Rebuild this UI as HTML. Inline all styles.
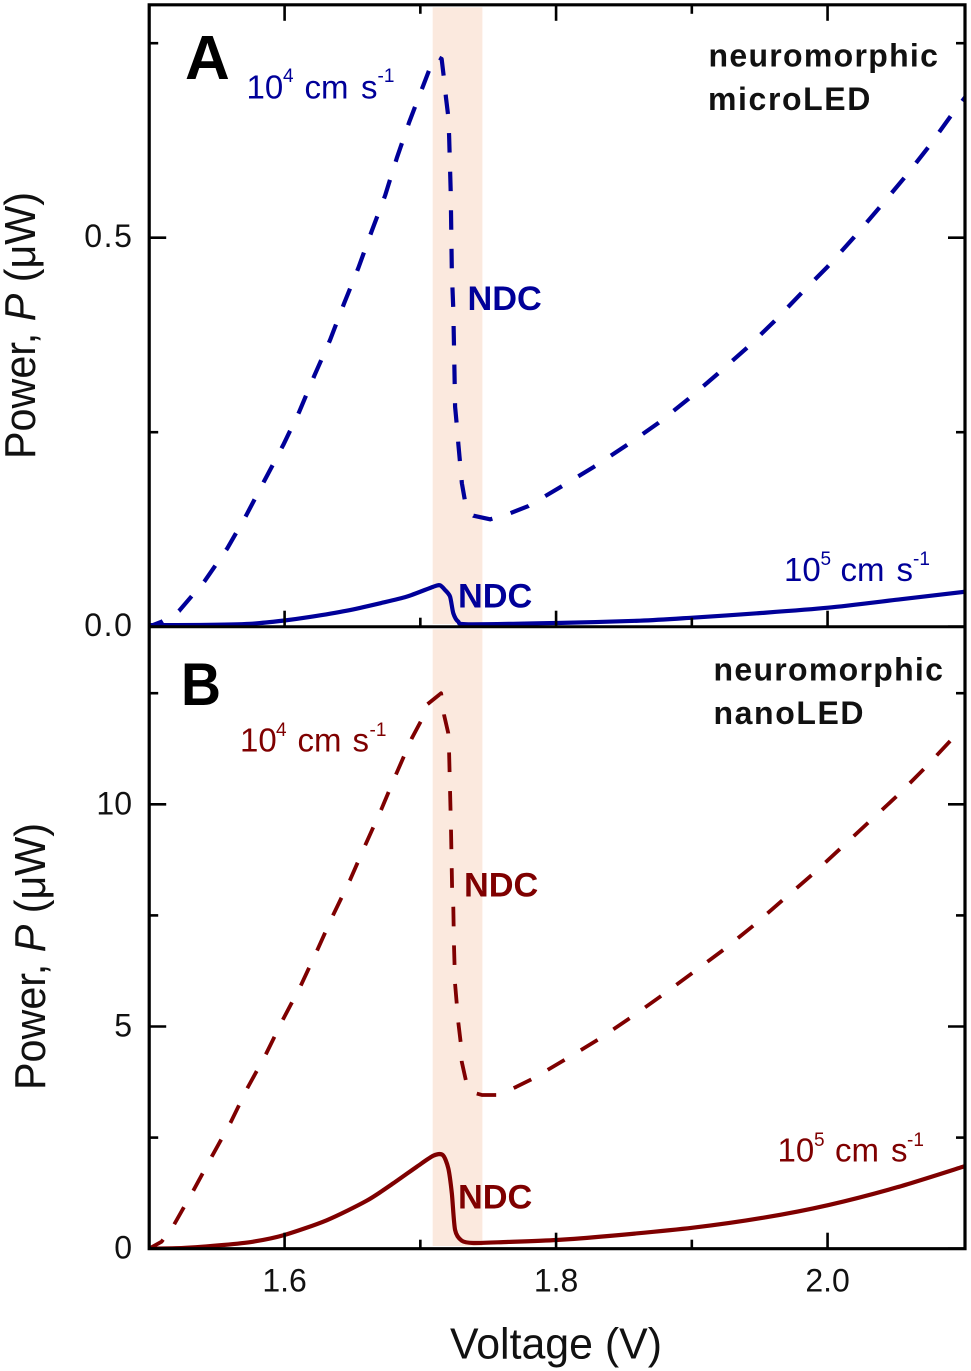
<!DOCTYPE html>
<html lang="en">
<head>
<meta charset="utf-8">
<title>Neuromorphic LED power versus voltage</title>
<style>
html,body{margin:0;padding:0;background:#fff;}
svg{display:block;}
text{font-family:"Liberation Sans",sans-serif;}
.tick{font-size:32px;fill:#111;}
.tick-wide{letter-spacing:1.6px;}
.title{font-size:44px;fill:#111;}
.blue{fill:#000099;}
.red{fill:#7f0000;}
.rate{font-size:33px;}
.sup{font-size:19px;}
.ndc{font-size:34.3px;font-weight:bold;}
.note{font-size:32px;font-weight:bold;letter-spacing:1.3px;fill:#111;}
.note-short{letter-spacing:1.6px;}
.letter{font-weight:bold;fill:#000;}
</style>
</head>
<body>
<svg id="chart" xmlns="http://www.w3.org/2000/svg" width="971" height="1371" viewBox="0 0 971 1371">
  <defs>
    <clipPath id="clip-a"><rect x="149" y="5" width="816" height="622"/></clipPath>
    <clipPath id="clip-b"><rect x="149" y="627" width="816" height="622"/></clipPath>
  </defs>
  <g id="bands"></g>
  <g id="curves"></g>
  <g id="axes"></g>
  <g id="labels"></g>

  <text class="letter" x="185" y="79" font-size="62">A</text>
  <text class="letter" x="181" y="705" font-size="60" textLength="40" lengthAdjust="spacingAndGlyphs">B</text>

  <text class="note" x="708.5" y="66.5">neuromorphic</text>
  <text class="note note-short" x="708" y="110">microLED</text>
  <text class="note" x="713.5" y="680.5">neuromorphic</text>
  <text class="note note-short" x="713.5" y="724">nanoLED</text>

  <text class="ndc blue" x="467.5" y="310">NDC</text>
  <text class="ndc blue" x="458" y="607.3">NDC</text>
  <text class="ndc red" x="464" y="896.7">NDC</text>
  <text class="ndc red" x="458" y="1208.3">NDC</text>

  <g class="blue">
    <text class="rate" x="246.5" y="98.3">10</text><text class="sup" x="283" y="82">4</text><text class="rate" x="304.5" y="98.3">cm</text><text class="rate" x="361" y="98.3">s</text><text class="sup" x="377.5" y="82">-1</text>
  </g>
  <g class="blue">
    <text class="rate" x="784" y="581">10</text><text class="sup" x="820.5" y="565">5</text><text class="rate" x="840.5" y="581">cm</text><text class="rate" x="896.5" y="581">s</text><text class="sup" x="913" y="565">-1</text>
  </g>
  <g class="red">
    <text class="rate" x="240" y="751.7">10</text><text class="sup" x="276" y="736">4</text><text class="rate" x="297.5" y="751.7">cm</text><text class="rate" x="352.5" y="751.7">s</text><text class="sup" x="369.5" y="736">-1</text>
  </g>
  <g class="red">
    <text class="rate" x="777.5" y="1161.7">10</text><text class="sup" x="814" y="1146">5</text><text class="rate" x="835" y="1161.7">cm</text><text class="rate" x="891" y="1161.7">s</text><text class="sup" x="907" y="1146">-1</text>
  </g>

  <text class="title" transform="translate(35 459) rotate(-90)" textLength="267" lengthAdjust="spacingAndGlyphs">Power, <tspan font-style="italic">P</tspan> (μW)</text>
  <text class="title" transform="translate(45 1090) rotate(-90)" textLength="267" lengthAdjust="spacingAndGlyphs">Power, <tspan font-style="italic">P</tspan> (μW)</text>
  <text class="title" x="450" y="1358.5" font-size="41" textLength="212" lengthAdjust="spacingAndGlyphs">Voltage (V)</text>
</svg>

<script>
// Tick values and labels
const xMajorTicks = [1.6, 1.8, 2.0];
const xMinorTicks = [1.7, 1.9];
const xTickLabels = ['1.6', '1.8', '2.0'];
const yMajorTicksA = [0, 0.5];
const yMinorTicksA = [0.25, 0.75];
const yTickLabelsA = ['0.0', '0.5'];
const yMajorTicksB = [0, 5, 10];
const yMinorTicksB = [2.5, 7.5, 12.5];
const yTickLabelsB = ['0', '5', '10'];
const ndcBandVoltage = [1.7091, 1.7457];

// Panel A, 10^4 cm/s (dashed)
const voltageA4 = [1.5,1.5094,1.5222,1.5413,1.5578,1.5716,1.585,1.599,1.6108,1.6219,1.6335,1.6438,1.6543,1.6642,1.674,1.6826,1.6919,1.7018,1.7072,1.7123,1.7157,1.7174,1.7189,1.7206,1.7212,1.7224,1.7232,1.7243,1.7251,1.7256,1.7269,1.728,1.7293,1.7306,1.733,1.7359,1.7391,1.7514,1.7661,1.7796,1.8037,1.828,1.8522,1.875,1.8972,1.9189,1.9407,1.961,1.9806,2.0,2.0192,2.0381,2.0566,2.0745,2.0909,2.1015];
const powerA4 = [0,0.0064,0.0202,0.0591,0.1008,0.1427,0.1873,0.2335,0.2763,0.3226,0.3685,0.4154,0.461,0.5086,0.554,0.602,0.6491,0.6941,0.7185,0.7329,0.7297,0.7049,0.6799,0.6555,0.6307,0.557,0.4563,0.4071,0.3321,0.2828,0.2583,0.2348,0.21,0.1843,0.1607,0.1474,0.1427,0.138,0.1458,0.1551,0.1799,0.2056,0.2335,0.2614,0.2923,0.3248,0.3586,0.3929,0.4285,0.4627,0.5,0.5385,0.5771,0.6169,0.6568,0.6808];

// Panel A, 10^5 cm/s (solid)
const voltageA5 = [1.5,1.5377,1.5745,1.5998,1.6187,1.6458,1.6703,1.69,1.7096,1.7145,1.7182,1.7219,1.7243,1.728,1.7354,1.8006,1.8619,1.9005,1.9479,2.0003,2.0536,2.1015];
const powerA5 = [0.002,0.0022,0.0037,0.008,0.0125,0.0206,0.0301,0.0386,0.0514,0.0532,0.0472,0.0386,0.0172,0.0064,0.0031,0.0048,0.0077,0.0116,0.0172,0.0244,0.0352,0.045];

// Panel B, 10^4 cm/s (dashed)
const voltageB4 = [1.5,1.5094,1.5187,1.5327,1.5463,1.5603,1.5725,1.5863,1.5986,1.6119,1.6241,1.6355,1.6482,1.6598,1.6713,1.6821,1.6937,1.7005,1.7052,1.7153,1.7175,1.7206,1.7212,1.7219,1.7226,1.7234,1.7243,1.7248,1.7256,1.7268,1.728,1.7298,1.7305,1.7335,1.7374,1.7453,1.7575,1.7705,1.7833,1.8074,1.8317,1.8553,1.8784,1.9017,1.9241,1.9459,1.9676,1.9892,2.0101,2.0307,2.0519,2.0715,2.0917];
const powerB4 = [0,0.158,0.549,1.305,2.07,2.844,3.609,4.381,5.146,5.918,6.721,7.493,8.296,9.107,9.887,10.675,11.485,11.874,12.25,12.498,12.009,11.597,11.147,10.283,9.421,8.11,7.673,6.818,5.956,5.522,5.085,4.622,4.208,3.796,3.526,3.459,3.459,3.639,3.834,4.269,4.719,5.207,5.709,6.233,6.744,7.284,7.862,8.431,9.023,9.608,10.209,10.81,11.469];

// Panel B, 10^5 cm/s (solid)
const voltageB5 = [1.5,1.5253,1.5548,1.5769,1.5998,1.631,1.6605,1.6801,1.6974,1.7096,1.7165,1.7206,1.7232,1.7256,1.7305,1.7391,1.7637,1.8005,1.8386,1.9008,1.9528,2.0007,2.0512,2.1015];
const powerB5 = [0,0.016,0.083,0.158,0.308,0.64,1.08,1.472,1.845,2.093,2.108,1.809,1.247,0.421,0.18,0.128,0.151,0.196,0.286,0.473,0.698,0.983,1.382,1.861];

const SVGNS = 'http://www.w3.org/2000/svg';
const PLOT_LEFT = 149.2;
const PLOT_RIGHT = 965;
const PANEL_A_TOP = 4.8;
const PANEL_A_BOTTOM = 626.7;
const PANEL_B_BOTTOM = 1248.7;

function xScale(v) { return 284.6 + (v - 1.6) * 1357.4; }
function yScaleA(p) { return 626.7 - p * 778; }
function yScaleB(p) { return 1248.7 - p * 44.44; }

function make(tag, parent, attrs, text) {
  const el = document.createElementNS(SVGNS, tag);
  for (const k in attrs) el.setAttribute(k, attrs[k]);
  if (text !== undefined) el.textContent = text;
  parent.appendChild(el);
  return el;
}
function pointsOf(vs, ps, yScale) {
  return vs.map(function (v, i) { return xScale(v).toFixed(2) + ',' + yScale(ps[i]).toFixed(2); }).join(' ');
}
// Smooth path through the data points (Catmull-Rom, softened so the sharp drop does not overshoot)
function smoothPath(vs, ps, yScale) {
  const pts = vs.map(function (v, i) { return [xScale(v), yScale(ps[i])]; });
  const k = 0.13;
  let d = 'M' + pts[0][0].toFixed(2) + ' ' + pts[0][1].toFixed(2);
  for (let i = 0; i < pts.length - 1; i++) {
    const p0 = pts[Math.max(i - 1, 0)];
    const p1 = pts[i];
    const p2 = pts[i + 1];
    const p3 = pts[Math.min(i + 2, pts.length - 1)];
    d += 'C' + (p1[0] + (p2[0] - p0[0]) * k).toFixed(2) + ' ' + (p1[1] + (p2[1] - p0[1]) * k).toFixed(2) + ' ' +
         (p2[0] - (p3[0] - p1[0]) * k).toFixed(2) + ' ' + (p2[1] - (p3[1] - p1[1]) * k).toFixed(2) + ' ' +
         p2[0].toFixed(2) + ' ' + p2[1].toFixed(2);
  }
  return d;
}

const bands = document.getElementById('bands');
const curves = document.getElementById('curves');
const axes = document.getElementById('axes');
const labels = document.getElementById('labels');

// NDC bands
const bandA = make('rect', bands, {x: xScale(ndcBandVoltage[0]), y: 7.3, width: xScale(ndcBandVoltage[1]) - xScale(ndcBandVoltage[0]), height: 616.7, fill: '#fbe9de'});


const bandB = make('rect', bands, {x: xScale(ndcBandVoltage[0]), y: 629.3, width: xScale(ndcBandVoltage[1]) - xScale(ndcBandVoltage[0]), height: 616.7, fill: '#fbe9de'});



// Curves
const lineA4 = make('polyline', curves, {points: pointsOf(voltageA4, powerA4, yScaleA), fill: 'none', stroke: '#000099', 'stroke-width': 4.2, 'stroke-linejoin': 'round', 'stroke-dasharray': '19.5 19.1', 'stroke-dashoffset': 4.5, 'clip-path': 'url(#clip-a)'});


const lineA5 = make('path', curves, {d: smoothPath(voltageA5, powerA5, yScaleA), fill: 'none', stroke: '#000099', 'stroke-width': 4.2, 'stroke-linejoin': 'round', 'clip-path': 'url(#clip-a)'});


const lineB4 = make('polyline', curves, {points: pointsOf(voltageB4, powerB4, yScaleB), fill: 'none', stroke: '#7f0000', 'stroke-width': 3.8, 'stroke-linejoin': 'round', 'stroke-dasharray': '19.6 19', 'stroke-dashoffset': 2.5, 'clip-path': 'url(#clip-b)'});


const lineB5 = make('path', curves, {d: smoothPath(voltageB5, powerB5, yScaleB), fill: 'none', stroke: '#7f0000', 'stroke-width': 4.2, 'stroke-linejoin': 'round', 'clip-path': 'url(#clip-b)'});



// Frame
const frame = make('path', axes, {d: 'M' + PLOT_LEFT + ' ' + PANEL_A_TOP + 'H' + PLOT_RIGHT + 'V' + PANEL_B_BOTTOM + 'H' + PLOT_LEFT + 'Z', fill: 'none', stroke: '#000', 'stroke-width': 3.2});


const divider = make('line', axes, {x1: PLOT_LEFT, x2: PLOT_RIGHT, y1: PANEL_A_BOTTOM, y2: PANEL_A_BOTTOM, stroke: '#000', 'stroke-width': 3});



// X ticks
function xTick(v, y0, dir, len) {
  const t = make('line', axes, {x1: xScale(v), x2: xScale(v), y1: y0, y2: y0 + dir * len, stroke: '#000', 'stroke-width': 2.6});
  
  
}
xMajorTicks.forEach(function (v) {
  xTick(v, PANEL_A_TOP, 1, 16);
  xTick(v, PANEL_A_BOTTOM, -1, 16);
  xTick(v, PANEL_B_BOTTOM, -1, 16);
});
xMinorTicks.forEach(function (v) {
  xTick(v, PANEL_A_TOP, 1, 9);
  xTick(v, PANEL_A_BOTTOM, -1, 9);
  xTick(v, PANEL_B_BOTTOM, -1, 9);
});

// Y ticks
function yTick(y, len) {
  const left = make('line', axes, {x1: PLOT_LEFT, x2: PLOT_LEFT + len, y1: y, y2: y, stroke: '#000', 'stroke-width': 2.6});
  
  
  const right = make('line', axes, {x1: PLOT_RIGHT, x2: PLOT_RIGHT - len, y1: y, y2: y, stroke: '#000', 'stroke-width': 2.6});
  
  
}
yMajorTicksA.forEach(function (p) { yTick(yScaleA(p), 17); });
yMinorTicksA.forEach(function (p) { yTick(yScaleA(p), 9); });
yMajorTicksB.forEach(function (p) { yTick(yScaleB(p), 17); });
yMinorTicksB.forEach(function (p) { yTick(yScaleB(p), 9); });

// Tick labels
xMajorTicks.forEach(function (v, i) {
  const l = make('text', labels, {class: 'tick', x: xScale(v), y: 1291.7, 'text-anchor': 'middle'}, xTickLabels[i]);
  
  
});
yMajorTicksA.forEach(function (p, i) {
  const l = make('text', labels, {class: 'tick tick-wide', x: 133.5, y: yScaleA(p) + 9.5, 'text-anchor': 'end'}, yTickLabelsA[i]);
  
  
});
yMajorTicksB.forEach(function (p, i) {
  const l = make('text', labels, {class: 'tick', x: 132, y: yScaleB(p) + 10, 'text-anchor': 'end'}, yTickLabelsB[i]);
  
  
});
</script>
</body>
</html>
